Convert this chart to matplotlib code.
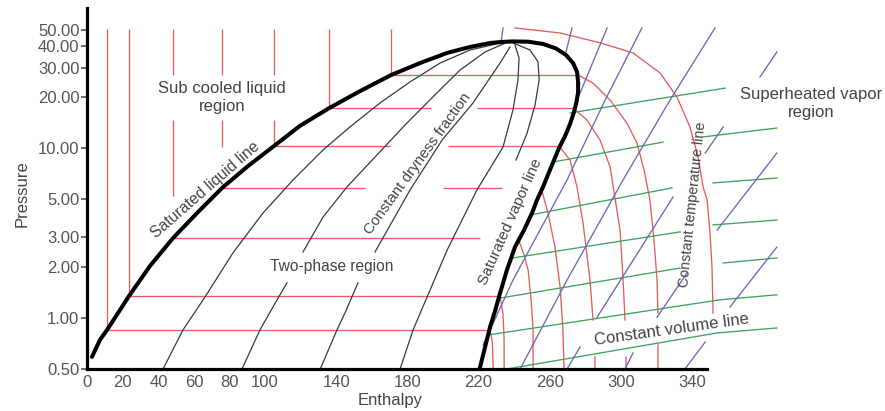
import numpy as np
import matplotlib
matplotlib.use("Agg")
import matplotlib.pyplot as plt
from matplotlib.ticker import NullLocator, FixedLocator, FixedFormatter

nan = np.nan

# ---------------- axis ticks ----------------
x_ticks = [0, 20, 40, 60, 80, 100, 140, 180, 220, 260, 300, 340]
y_ticks = [0.5, 1, 2, 3, 5, 10, 20, 30, 40, 50]
y_tick_labels = ['0.50', '1.00', '2.00', '3.00', '5.00', '10.00', '20.00', '30.00', '40.00', '50.00']

# ---------------- saturation dome (enthalpy, pressure) ----------------
sat_liq_h = [2.6, 7.1, 11.1, 17.3, 23.5, 35.3, 48.2, 62.3, 75.8, 90.4, 105.0, 119.6, 136.0,
             153.4, 170.8, 187.1, 202.3, 215.2, 226.5, 233.0, 239.4]
sat_liq_p = [0.589, 0.742, 0.85, 1.07, 1.35, 2.03, 2.96, 4.22, 5.85, 7.88, 10.34, 13.6, 17.3,
             21.8, 27.1, 31.9, 36.6, 39.7, 41.9, 42.5, 42.8]
sat_vap_h = [239.4, 247.9, 256.3, 263.6, 269.2, 273.2, 275.4, 276.0, 276.0, 275.1, 273.7, 271.5,
             268.7, 265.3, 262.5, 259.7, 256.3, 252.9, 250.1, 245.6, 240.5, 236.0, 232.1,
             229.4, 226.5, 223.7, 220.9, 220.6]
sat_vap_p = [42.8, 42.65, 41.35, 38.9, 35.6, 31.9, 28.3, 24.7, 21.5, 18.8, 16.4, 13.95,
             11.85, 10.07, 8.55, 7.27, 5.93, 4.97, 4.16, 3.30, 2.62, 1.92, 1.40,
             1.11, 0.885, 0.674, 0.514, 0.5]

# ---------------- constant temperature lines ----------------
# sub-cooled liquid region (vertical pieces): enthalpy, top pressure, bottom pressure
sub_h = [11.1, 23.5, 48.2, 48.2, 75.8, 75.8, 105.0, 105.0, 136.0, 170.8]
sub_top = [50.7, 50.7, 50.7, 14.7, 50.7, 14.7, 50.7, 14.7, 50.7, 50.7]
sub_bot = [0.85, 1.35, 27.1, 5.24, 27.1, 10.2, 27.1, 10.34, 17.3, 27.1]

# two-phase region (horizontal pieces): pressure, start enthalpy, end enthalpy
tp_p = [0.85, 1.35, 2.96, 5.85, 5.85, 10.34, 10.34, 17.3, 17.3, 27.1]
tp_h0 = [11.1, 23.5, 48.2, 75.8, 200.1, 105.0, 202.9, 136.0, 219.1, 170.8]
tp_h1 = [226.5, 232.1, 220.9, 156.2, 233.3, 170.2, 265.3, 193.3, 273.2, 276.0]

# superheated region
t0_h = [240.5, 265.9, 288.4, 306.9, 322.1, 331.6, 338.9, 343.5, 346.3, 348.6, 350.2, 351.3, 351.9]
t0_p = [51.4, 48.0, 42.0, 36.6, 27.9, 20.1, 13.4, 8.9, 5.93, 4.97, 3.17, 2.00, 1.07]
t1_h = [226.5, 227.8, 228.2]
t1_p = [0.85, 0.72, 0.5]
t2_h = [232.1, 233.8, 234.4, 234.4]
t2_p = [1.35, 1.05, 0.742, 0.5]
t3_h = [242.2, 245.6, 247.9, 249.6, 250.7, 250.7]
t3_p = [2.96, 2.36, 1.92, 1.28, 0.85, 0.5]
t4_h = [255.2, 259.1, 263.0, 265.9, 267.5, 268.1]
t4_p = [5.85, 4.16, 2.62, 1.52, 0.85, 0.5]
t5_h = [265.3, 271.5, 275.4, 278.8, 282.7, 284.4, nan, 285.5, 285.5]
t5_p = [10.34, 8.55, 5.93, 3.63, 1.675, 0.973, nan, 0.589, 0.5]
t6_h = [273.2, 281.0, 288.4, 294.0, 299.6, 301.3, 302.4, nan, 303.0, 303.0]
t6_p = [17.3, 14.7, 11.2, 7.78, 3.30, 1.675, 0.973, nan, 0.589, 0.5]
t7_h = [276.0, 284.4, 294.0, 303.5, 309.1, 313.1, 316.4, 318.7, 320.4, 320.9, nan, 320.9, 320.9]
t7_p = [27.1, 24.3, 19.3, 14.1, 10.77, 7.46, 4.97, 2.88, 1.675, 1.07, nan, 0.693, 0.5]

# ---------------- constant dryness fraction lines ----------------
xa_h = [42.6, 53.8, 66.2, 81.9, 98.8, 115.7, 132.6, 147.7, 164.6, 181.5, 198.4, 215.2, 232.1]
xa_p = [0.5, 0.85, 1.33, 2.42, 4.16, 6.52, 9.8, 13.4, 18.55, 24.7, 31.9, 38.1, 41.8]
xb_h = [87.0, 97.1, 106.7, 112.3, nan, 121.3, 132.6, 146.0, 161.8, 178.7, 195.5, 209.6, 223.7, 235.0]
xb_p = [0.5, 0.85, 1.28, 1.61, nan, 2.45, 3.94, 5.93, 8.9, 13.76, 20.7, 29.0, 37.1, 41.8]
xc_h = [131.0, 140.4, 144.9, 152.2, nan, 161.8, 181.5, 199.5, 216.9, 232.1, 237.7]
xc_p = [0.5, 0.85, 1.07, 1.61, nan, 2.45, 5.69, 11.2, 18.55, 31.9, 39.7]
xd_h = [175.9, 183.2, 191.1, 202.4, 219.1, 233.8, 239.4, 242.2, 242.8, 240.5]
xd_p = [0.5, 0.85, 1.33, 2.52, 5.69, 10.2, 16.9, 25.35, 34.2, 40.8]
xe_h = [239.4, 249.0, 253.5, 254.1, 251.8, 247.3, 241.1]
xe_p = [41.9, 38.1, 32.4, 25.35, 18.05, 12.3, 8.55]

# ---------------- constant entropy lines (blue) ----------------
sa_h = [233.8, 232.6]
sa_p = [51.4, 41.9]
sb_h = [272.6, 269.2]
sb_p = [51.4, 37.1]
sc_h = [292.3, 275.5]
sc_p = [51.4, 19.3]
s1_h = [222.6, 239.4, 269.8, 291.2, 311.9]
s1_p = [0.693, 1.675, 6.52, 19.3, 51.4]
s2_h = [243.4, 269.8, 301.3, 327.7, 353.0]
s2_p = [0.5, 1.675, 6.52, 19.3, 51.4]
s3_h = [269.8, 277.1, nan, 286.7, 329.4, nan, 347.5, 357.6, nan, 378.3, 387.8]
s3_p = [0.5, 0.674, nan, 1.01, 5.17, nan, 9.4, 13.4, nan, 26.4, 37.1]
s4_h = [302.4, 306.9, nan, 320.4, 337.2, nan, 354.2, 387.8]
s4_p = [0.5, 0.622, nan, 1.01, 1.84, nan, 3.30, 9.4]
s5_h = [336.1, 347.5, nan, 361.4, 387.8]
s5_p = [0.5, 0.722, nan, 1.16, 2.62]

# ---------------- constant volume lines (green) ----------------
v1_h = [271.5, 358.7]
v1_p = [16.2, 22.7]
v2_h = [261.9, 323.8, nan, 346.3, 387.8]
v2_p = [8.32, 10.9, nan, 11.7, 13.2]
v3_h = [249.0, 328.8, nan, 351.9, 387.8]
v3_p = [4.05, 5.85, nan, 6.26, 6.69]
v4_h = [239.4, 333.3, nan, 351.9, 387.8]
v4_p = [2.26, 3.22, nan, 3.54, 3.78]
v5_h = [232.1, 333.3, nan, 357.6, 387.8]
v5_p = [1.31, 1.97, nan, 2.11, 2.26]
v6_h = [225.4, 355.8, 387.8]
v6_p = [0.794, 1.28, 1.37]
v7_h = [236.0, 354.2, 387.8]
v7_p = [0.5, 0.816, 0.873]

# ---------------- styles ----------------
RED = '#e85a5e'
BLUE = '#6a6ab6'
GREEN = '#3fa25a'
DARK = '#3a3a3a'
TXT = '#444444'

plt.rcParams['font.family'] = ['Liberation Sans', 'DejaVu Sans']

fig = plt.figure(figsize=(8.85, 4.11), dpi=100)
ax = fig.add_axes([86.5 / 885, 42 / 411, 798.5 / 885, 361 / 411])
ax.set_yscale('log')
ax.set_xlim(-0.45, 448.6)
ax.set_ylim(0.5, 67.4)

lw_thin = 0.95

# red constant-temperature lines
for h, top, bot in zip(sub_h, sub_top, sub_bot):
    ax.plot([h, h], [top, bot], color=RED, lw=lw_thin, zorder=2, solid_capstyle='butt')
for p, h0, h1 in zip(tp_p, tp_h0, tp_h1):
    ax.plot([h0, h1], [p, p], color=RED, lw=lw_thin, zorder=2, solid_capstyle='butt')
for hh, pp in [(t0_h, t0_p), (t1_h, t1_p), (t2_h, t2_p), (t3_h, t3_p), (t4_h, t4_p),
               (t5_h, t5_p), (t6_h, t6_p), (t7_h, t7_p)]:
    ax.plot(hh, pp, color=RED, lw=lw_thin, zorder=2)

# dryness lines
for hh, pp in [(xa_h, xa_p), (xb_h, xb_p), (xc_h, xc_p), (xd_h, xd_p), (xe_h, xe_p)]:
    ax.plot(hh, pp, color=DARK, lw=0.9, zorder=2)

# entropy lines
for hh, pp in [(sa_h, sa_p), (sb_h, sb_p), (sc_h, sc_p), (s1_h, s1_p), (s2_h, s2_p),
               (s3_h, s3_p), (s4_h, s4_p), (s5_h, s5_p)]:
    ax.plot(hh, pp, color=BLUE, lw=lw_thin, zorder=2.2)

# volume lines
for hh, pp in [(v1_h, v1_p), (v2_h, v2_p), (v3_h, v3_p), (v4_h, v4_p), (v5_h, v5_p),
               (v6_h, v6_p), (v7_h, v7_p)]:
    ax.plot(hh, pp, color=GREEN, lw=lw_thin, zorder=2.1)

# saturation dome
ax.plot(sat_liq_h + sat_vap_h[1:], sat_liq_p + sat_vap_p[1:], color='black', lw=2.9,
        zorder=4, solid_joinstyle='round', solid_capstyle='round')

# spines & ticks
for s in ['top', 'right']:
    ax.spines[s].set_visible(False)
for s in ['left', 'bottom']:
    ax.spines[s].set_linewidth(2.3)
    ax.spines[s].set_color('black')
ax.spines['bottom'].set_bounds(-0.45, 348.5)
ax.spines['left'].set_zorder(5)
ax.spines['bottom'].set_zorder(5)

ax.yaxis.set_major_locator(FixedLocator(y_ticks))
ax.yaxis.set_major_formatter(FixedFormatter(y_tick_labels))
ax.yaxis.set_minor_locator(NullLocator())
ax.xaxis.set_minor_locator(NullLocator())
ax.set_xticks(x_ticks)
ax.set_xticklabels([str(v) for v in x_ticks])
ax.tick_params(axis='y', length=4.3, width=1.2, color='#555555', pad=0.8,
               labelsize=12, labelcolor='#555555')
ax.tick_params(axis='x', length=0, pad=4.5, labelsize=12, labelcolor='#555555')

# labels
ax.text(75.8, 20.1, 'Sub cooled liquid\nregion', ha='center', va='center', fontsize=12,
        color=TXT, linespacing=1.25, zorder=6)
ax.text(137.6, 2.0, 'Two-phase region', ha='center', va='center', fontsize=11.2,
        color=TXT, zorder=6)
ax.text(66.2, 5.7, 'Saturated liquid line', ha='center', va='center', fontsize=11.3,
        color=TXT, rotation=41, rotation_mode='anchor', zorder=6)
ax.text(186.0, 8.1, 'Constant dryness fraction', ha='center', va='center', fontsize=10.9,
        color=TXT, rotation=54, rotation_mode='anchor', zorder=6)
ax.text(237.9, 3.7, 'Saturated vapor line', ha='center', va='center', fontsize=11,
        color=TXT, rotation=66, rotation_mode='anchor', zorder=6)
ax.text(340.7, 4.64, 'Constant temperature line', ha='center', va='center', fontsize=10.4,
        color=TXT, rotation=84, rotation_mode='anchor', zorder=6)
ax.text(407.0, 18.3, 'Superheated vapor\nregion', ha='center', va='center', fontsize=12,
        color=TXT, linespacing=1.25, zorder=6)
ax.text(328.4, 0.85, 'Constant volume line', ha='center', va='center', fontsize=12,
        color=TXT, rotation=8, rotation_mode='anchor', zorder=6)

fig.text(22 / 885, 1 - 194 / 411, 'Pressure', rotation=90, ha='center', va='center',
         fontsize=12, color=TXT)
fig.text(390 / 885, 1 - 393 / 411, 'Enthalpy', ha='center', va='top', fontsize=12,
         color=TXT)

fig.savefig('out.png', dpi=100)
